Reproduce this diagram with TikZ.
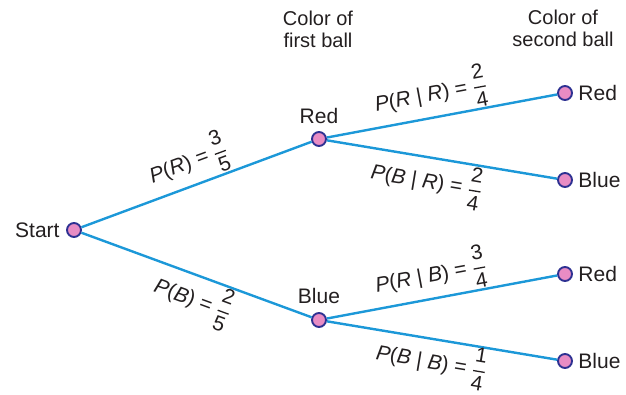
\documentclass[tikz,border=0pt]{standalone}
\usepackage{amsmath}
\usepackage{fontspec}
\setmainfont{Liberation Sans}
\definecolor{dotpink}{HTML}{E88CC4}
\definecolor{dotblue}{HTML}{2E3192}
\definecolor{linecol}{HTML}{1C98D8}
\definecolor{txt}{HTML}{231F20}
\newcommand\fr[2]{$\genfrac{}{}{1.3pt}{0}{\mbox{#1}}{\mbox{#2}}$}
\newcommand\pr[1]{\textit{#1}}
\begin{document}
\begin{tikzpicture}[x=1pt,y=-1pt,
  dot/.style={circle, fill=dotpink, draw=dotblue, line width=1.9pt, minimum size=14pt, inner sep=0pt},
  branch/.style={draw=linecol, line width=2.4pt},
  lab/.style={font=\fontsize{21}{24}\selectfont, text=txt},
  elab/.style={font=\fontsize{21}{24}\selectfont, text=txt, sloped, inner sep=0pt},
  head/.style={font=\fontsize{20}{22}\selectfont, text=txt, align=center}]
\useasboundingbox (0,0) rectangle (626,394);
\node[dot] (s) at (74,230) {};
\node[dot] (r1) at (319,139) {};
\node[dot] (b1) at (319,320) {};
\node[dot] (rr) at (565,93) {};
\node[dot] (rb) at (565,180) {};
\node[dot] (br) at (565,274) {};
\node[dot] (bb) at (565,361) {};
\node[lab, anchor=east] (ts) at ([xshift=-3pt]s.west) {Start};
\node[lab, anchor=south] (tr1) at ([yshift=4pt]r1.north) {Red};
\node[lab, anchor=south] (tb1) at ([yshift=5pt]b1.north) {Blue};
\node[lab, anchor=west] (trr) at ([xshift=2pt]rr.east) {Red};
\node[lab, anchor=west] (trb) at ([xshift=2pt]rb.east) {Blue};
\node[lab, anchor=west] (tbr) at ([xshift=2pt]br.east) {Red};
\node[lab, anchor=west] (tbb) at ([xshift=2pt]bb.east) {Blue};
\node[head] (h1) at (318,29) {Color of\\first ball};
\node[head] (h2) at (563,28) {Color of\\second ball};
\draw[branch] (s) -- node[elab, above=1pt, pos=0.5] {\pr{P}(\pr{R}) = \fr{3}{5}} (r1);
\draw[branch] (s) -- node[elab, below=1pt, pos=0.52] {\pr{P}(\pr{B}) = \fr{2}{5}} (b1);
\draw[branch] (r1) -- node[elab, above=1pt, pos=0.47] {\pr{P}(\pr{R} | \pr{R}) = \fr{2}{4}} (rr);
\draw[branch] (r1) -- node[elab, below=1pt, pos=0.45] {\pr{P}(\pr{B} | \pr{R}) = \fr{2}{4}} (rb);
\draw[branch] (b1) -- node[elab, above=1pt, pos=0.47] {\pr{P}(\pr{R} | \pr{B}) = \fr{3}{4}} (br);
\draw[branch] (b1) -- node[elab, below=0pt, pos=0.47] {\pr{P}(\pr{B} | \pr{B}) = \fr{1}{4}} (bb);
\end{tikzpicture}
\end{document}
